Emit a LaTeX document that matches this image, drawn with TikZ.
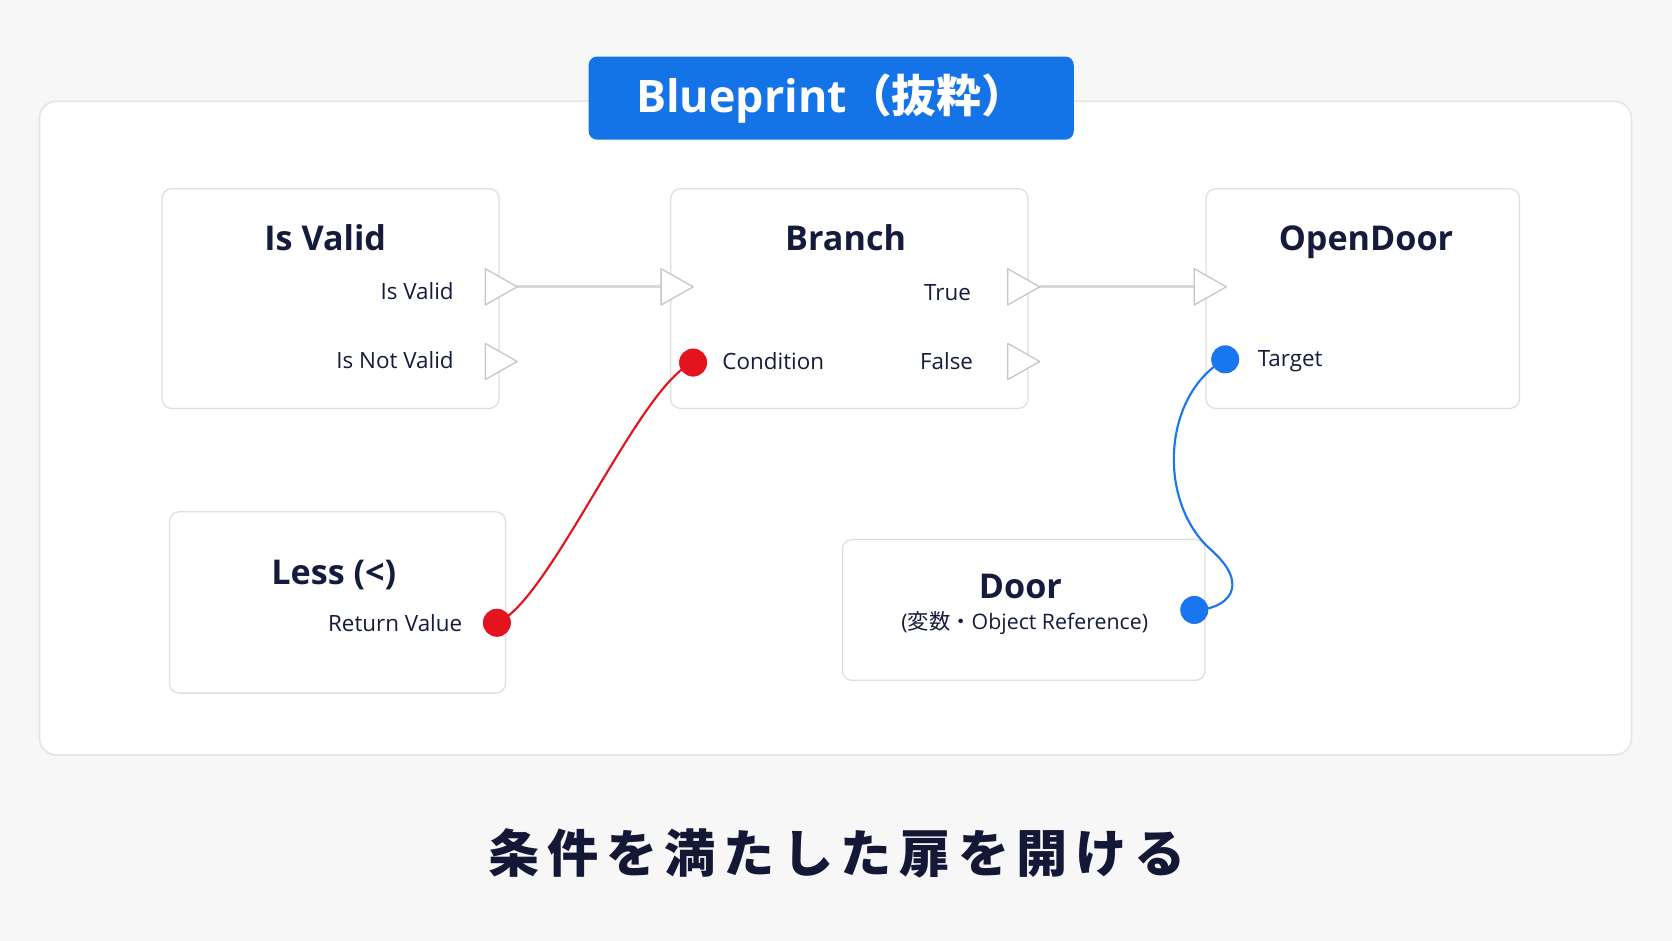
\documentclass[tikz,border=0pt]{standalone}
\usepackage{fontspec}
\setmainfont{Open Sans}
\newfontfamily\cjk{Noto Sans CJK JP}
\definecolor{navy}{HTML}{141B3C}
\definecolor{bpblue}{HTML}{1473E6}
\definecolor{pinred}{HTML}{E3141E}
\definecolor{pinblue}{HTML}{1877F0}
\definecolor{bg}{HTML}{F7F7F8}
\begin{document}
\begin{tikzpicture}[x=1pt,y=-1pt,
  box/.style={draw=gray!25,line width=1.2pt,fill=white,rounded corners=9pt},
  ttl/.style={anchor=base,font=\fontsize{32}{36}\selectfont\bfseries,text=navy},
  lbl/.style={font=\fontsize{21}{24}\selectfont,text=navy},
  exec/.style={draw=gray!45,line width=1.2pt,fill=white,line join=round},
  wire/.style={draw=gray!30,line width=3pt},
  dot/.style={circle,minimum size=26pt,inner sep=0pt}]
\fill[bg] (0,0) rectangle (1568,882);
\useasboundingbox (0,0) rectangle (1568,882);
\draw[draw=gray!20,line width=1.5pt,fill=white,rounded corners=16pt] (37,95) rectangle (1530,708);
\node[fill=bpblue,rounded corners=8pt,minimum width=455pt,minimum height=78pt,text=white,font=\fontsize{42}{46}\selectfont\bfseries] (title) at (779.5,92) {Blueprint{\cjk\bfseries （抜粋）}};
% nodes
\draw[box] (152,177) rectangle (468,383);
\node[ttl] (t1) at (305,235) {Is Valid};
\node[lbl,anchor=east] (l1) at (429,273) {Is Valid};
\node[lbl,anchor=east] (l2) at (429,338) {Is Not Valid};
\draw[box] (629,177) rectangle (964,383);
\node[ttl] (t2) at (793,235) {Branch};
\node[lbl,anchor=east] (l3) at (914,274) {True};
\node[lbl,anchor=east] (l4) at (916,339) {False};
\node[lbl,anchor=west] (l5) at (674,339) {Condition};
\draw[box] (1131,177) rectangle (1425,383);
\node[ttl] (t3) at (1281,235) {OpenDoor};
\node[lbl,anchor=west] (l6) at (1176,339) {Target};
\draw[box] (159,480) rectangle (474,650);
\node[ttl] (t4) at (313,548) {Less (<)};
\node[lbl,anchor=east] (l7) at (437,584) {Return Value};
\draw[box] (790,506) rectangle (1130,638);
\node[ttl] (t5) at (957,561) {Door};
\node[lbl,font=\fontsize{20}{23}\selectfont] (l8) at (961,584) {({\cjk 変数・}Object Reference)};
% exec wires
\coordinate (e1) at (485,269); \coordinate (e2) at (620,269);
\coordinate (e3) at (975,269); \coordinate (e4) at (1120,269);
\draw[wire] (e1) -- (e2);
\draw[wire] (e3) -- (e4);
% exec pins
\foreach \x/\y in {455/269,455/339,620/269,945/269,945/339,1120/269}
  \draw[exec] (\x,\y-17) -- (\x+30,\y) -- (\x,\y+17) -- cycle;
% data wires
\node[dot,fill=pinred] (rv) at (466,584) {};
\node[dot,fill=pinred] (cond) at (650,340) {};
\node[dot,fill=pinblue] (tg) at (1149,337) {};
\node[dot,fill=pinblue] (dr) at (1120,572) {};
\draw[pinred,line width=2pt] (rv.center) .. controls (515,565) and (600,360) .. (cond.center);
\draw[pinblue,line width=2pt] (tg.center) .. controls (1090,370) and (1085,470) .. (1135,515) .. controls (1175,550) and (1150,572) .. (dr.center);
\node[dot,fill=pinred] at (466,584) {};
\node[dot,fill=pinred] at (650,340) {};
\node[dot,fill=pinblue] at (1149,337) {};
\node[dot,fill=pinblue] at (1120,572) {};
\node[text=navy!90!black,font=\cjk\fontsize{48}{52}\selectfont\bfseries] (cap) at (785,800) {条\kern7pt 件\kern7pt を\kern7pt 満\kern7pt た\kern7pt し\kern7pt た\kern7pt 扉\kern7pt を\kern7pt 開\kern7pt け\kern7pt る};
\end{tikzpicture}
\end{document}
